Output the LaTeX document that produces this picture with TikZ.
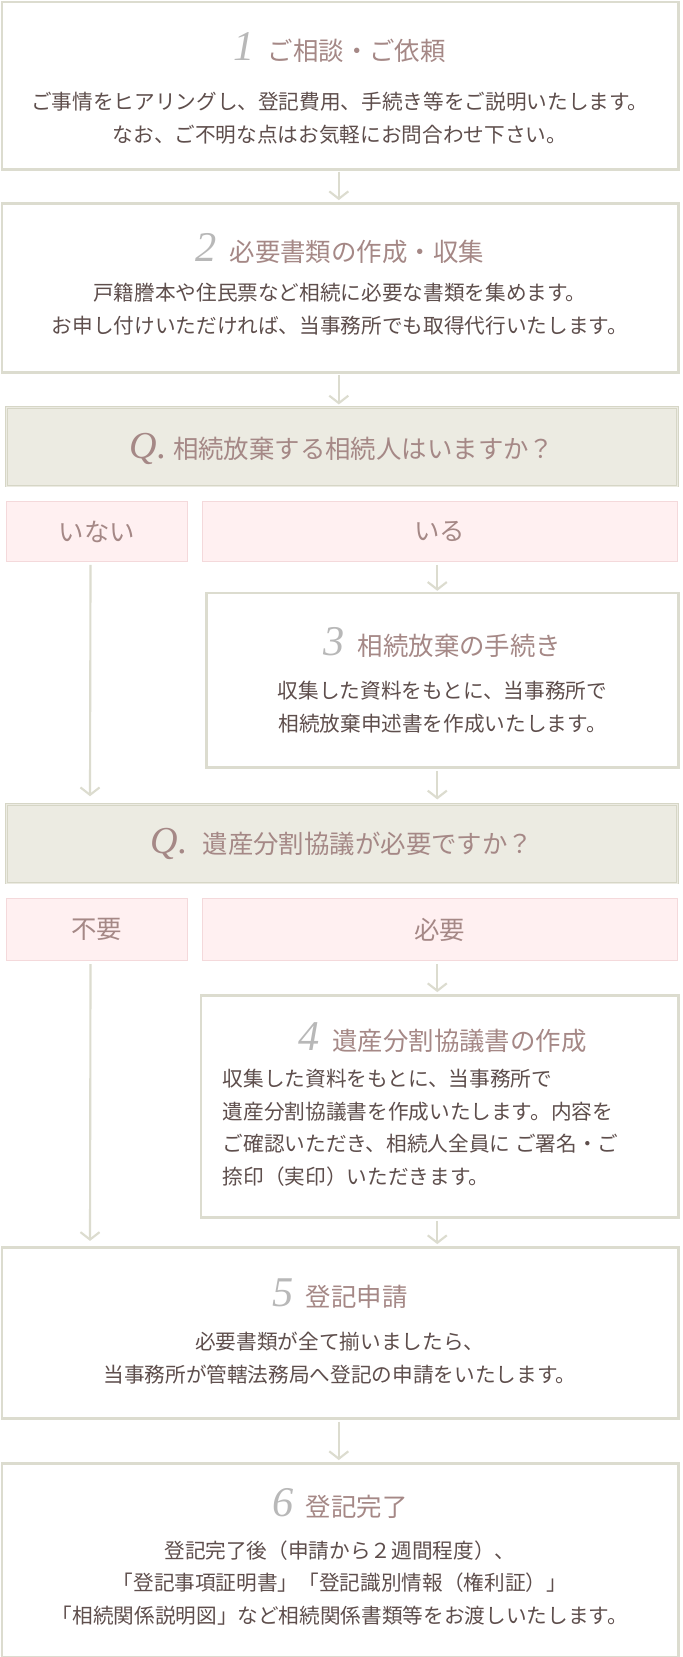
\documentclass[tikz,border=0pt]{standalone}
\usepackage{fontspec}
\setmainfont{Noto Sans CJK JP}
\newfontfamily\numfont{Liberation Serif}
\usetikzlibrary{arrows.meta,positioning}
\definecolor{frameline}{HTML}{DCDCCF}
\definecolor{qfill}{HTML}{ECEBE2}
\definecolor{qline}{HTML}{D6D6C6}
\definecolor{pinkfill}{HTML}{FFF0F1}
\definecolor{pinkline}{HTML}{F4D9DB}
\definecolor{titlecol}{HTML}{A58886}
\definecolor{bodycol}{HTML}{5E4E4C}
\definecolor{numcol}{HTML}{B8B8B8}
\begin{document}
\begin{tikzpicture}[x=1pt,y=-1pt,
    stepbox/.style={draw=frameline, line width=2.5pt, fill=white},
    qbox/.style={draw=qline, line width=1pt, fill=qfill, double=qfill},
    ansbox/.style={draw=pinkline, line width=1pt, fill=pinkfill},
    titletext/.style={text=titlecol, font=\fontsize{24}{28}\selectfont},
    bodytext/.style={text=bodycol, font=\fontsize{19.5}{31}\selectfont, align=center},
    flow/.style={draw=frameline, line width=2pt, -{Straight Barb[length=7pt,width=18pt,line width=2pt]}}]
\useasboundingbox[fill=white] (0,0) rectangle (645,1565);
\newcommand{\stepno}[1]{{\color{numcol}\numfont\itshape\fontsize{40}{40}\selectfont #1}\hspace{12pt}}
% step 1
\draw[stepbox] (2,2) rectangle (641,160);
\node (s1) at (321.5,81) {};
\node[titletext] (t1) at (321,45) {\stepno{1}ご相談・ご依頼};
\node[bodytext] (b1) at (321,112) {ご事情をヒアリングし、登記費用、手続き等をご説明いたします。\\なお、ご不明な点はお気軽にお問合わせ下さい。};
% step 2
\draw[stepbox] (2,192) rectangle (641,352);
\node (s2) at (321.5,272) {};
\node[titletext] (t2) at (321,235) {\stepno{2}必要書類の作成・収集};
\node[bodytext] (b2) at (321,292) {戸籍謄本や住民票など相続に必要な書類を集めます。\\お申し付けいただければ、当事務所でも取得代行いたします。};
% question 1
\node[qbox, minimum width=634pt, minimum height=74pt] (q1) at (323,422) {};
\node[titletext] (q1t) at (323,424) {{\color{titlecol}\numfont\itshape\fontsize{36}{36}\selectfont Q.}\hspace{6pt}相続放棄する相続人はいますか？};
\node[ansbox, minimum width=171pt, minimum height=56pt, titletext] (nai) at (91.5,502) {いない};
\node[ansbox, minimum width=449pt, minimum height=56pt, titletext] (iru) at (415.5,502) {いる};
% step 3
\draw[stepbox] (195,560) rectangle (641,725);
\node (s3) at (418,642.5) {};
\node[titletext] (t3) at (418,607) {\stepno{3}相続放棄の手続き};
\node[bodytext] (b3) at (418,668) {収集した資料をもとに、当事務所で\\相続放棄申述書を作成いたします。};
% question 2
\node[qbox, minimum width=634pt, minimum height=74pt] (q2) at (323,797) {};
\node[titletext] (q2t) at (323,797) {{\color{titlecol}\numfont\itshape\fontsize{36}{36}\selectfont Q.}\hspace{14pt}遺産分割協議が必要ですか？};
\node[ansbox, minimum width=171pt, minimum height=58pt, titletext] (fuyo) at (91.5,878) {不要};
\node[ansbox, minimum width=449pt, minimum height=58pt, titletext] (hitsuyo) at (415.5,878) {必要};
% step 4
\draw[stepbox] (190,940) rectangle (641,1150);
\node (s4) at (415.5,1045) {};
\node[titletext] (t4) at (418,980) {\stepno{4}遺産分割協議書の作成};
\node[bodytext, align=left, anchor=north west] (b4) at (207,1006) {収集した資料をもとに、当事務所で\\遺産分割協議書を作成いたします。内容を\\ご確認いただき、相続人全員に ご署名・ご\\捺印（実印）いただきます。};
% step 5
\draw[stepbox] (2,1178) rectangle (641,1340);
\node (s5) at (321.5,1259) {};
\node[titletext] (t5) at (321,1222) {\stepno{5}登記申請};
\node[bodytext] (b5) at (321,1283) {必要書類が全て揃いましたら、\\当事務所が管轄法務局へ登記の申請をいたします。};
% step 6
\draw[stepbox] (2,1382) rectangle (641,1565);
\node (s6) at (321.5,1473.5) {};
\node[titletext] (t6) at (321,1420) {\stepno{6}登記完了};
\node[bodytext] (b6) at (321,1495) {登記完了後（申請から２週間程度）、\\「登記事項証明書」「登記識別情報（権利証）」\\「相続関係説明図」など相続関係書類等をお渡しいたします。};
% arrows
\path[flow] (320,162) -- (320,189);
\path[flow] (320,354) -- (320,382);
\path[flow] (iru.south -| 413,0) ++(0,3) -- (413,558);
\path[flow] (nai.south) ++(-6,3) -- (85,752);
\path[flow] (413,728) -- (413,755);
\path[flow] (hitsuyo.south -| 413,0) ++(0,3) -- (413,937);
\path[flow] (fuyo.south) ++(-6,3) -- (85,1172);
\path[flow] (413,1153) -- (413,1175);
\path[flow] (320,1343) -- (320,1379);
\end{tikzpicture}
\end{document}
